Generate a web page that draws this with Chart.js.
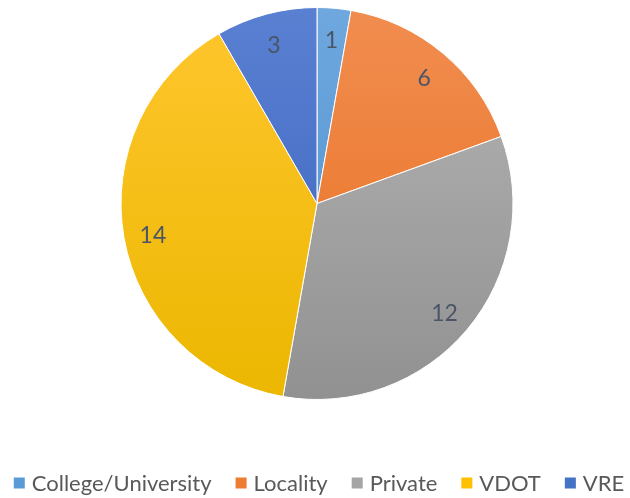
<!DOCTYPE html>
<html>
<head>
<meta charset="utf-8">
<script src="https://cdn.jsdelivr.net/npm/chart.js@4"></script>
<style>
  html, body { margin: 0; padding: 0; background: #fff; }
  #wrap { width: 630px; height: 498px; }
</style>
</head>
<body>
<div id="wrap"><canvas id="myChart"></canvas></div>
<script>
const labels = ['College/University', 'Locality', 'Private', 'VDOT', 'VRE'];
const values = [1, 6, 12, 14, 3];
// top / bottom shades for the vertical gradient of each slice
const topColors = ['#6FA8DF', '#F18D50', '#B5B5B5', '#FFC62E', '#5A80D2'];
const bottomColors = ['#4A8CCB', '#E86F1E', '#919191', '#EBB700', '#3862BC'];
const baseColors = ['#5B9BD5', '#ED7D31', '#A5A5A5', '#FFC000', '#4472C4'];

const FONT = 'Lato, "Open Sans", sans-serif';

function sliceFill(context) {
    const chart = context.chart;
    const area = chart.chartArea;
    const i = context.dataIndex;
    if (!area) return baseColors[i];
    const g = chart.ctx.createLinearGradient(0, area.top, 0, area.bottom);
    g.addColorStop(0, topColors[i]);
    g.addColorStop(1, bottomColors[i]);
    return g;
}

// write the values inside each slice
const valueLabels = {
    id: 'valueLabels',
    afterDatasetsDraw(chart) {
        const ctx = chart.ctx;
        const meta = chart.getDatasetMeta(0);
        ctx.save();
        ctx.font = '23px ' + FONT;
        ctx.fillStyle = '#4A5566';
        ctx.textAlign = 'center';
        ctx.textBaseline = 'middle';
        meta.data.forEach(function (arc, i) {
            const p = arc.getProps(['x', 'y', 'startAngle', 'endAngle', 'outerRadius']);
            const mid = (p.startAngle + p.endAngle) / 2;
            const r = p.outerRadius * 0.85;
            ctx.fillText(String(values[i]), p.x + Math.cos(mid) * r, p.y + Math.sin(mid) * r + 3);
        });
        ctx.restore();
    }
};

// legend along the bottom, drawn by hand so the box/text spacing matches
const bottomLegend = {
    id: 'bottomLegend',
    afterDraw(chart) {
        const ctx = chart.ctx;
        const box = 11, gap = 7, itemGap = 24;
        ctx.save();
        ctx.font = '22px ' + FONT;
        ctx.textBaseline = 'middle';
        ctx.textAlign = 'left';
        const widths = labels.map(function (t) { return ctx.measureText(t).width; });
        let total = 0;
        widths.forEach(function (w) { total += box + gap + w; });
        total += itemGap * (labels.length - 1);
        let x = (chart.width - total) / 2 + 4;
        const y = chart.height - 15;
        labels.forEach(function (t, i) {
            ctx.fillStyle = baseColors[i];
            ctx.fillRect(x, y - box / 2, box, box);
            ctx.fillStyle = '#595959';
            ctx.fillText(t, x + box + gap, y + 1);
            x += box + gap + widths[i] + itemGap;
        });
        ctx.restore();
    }
};

const ctx1 = document.getElementById('myChart').getContext('2d');
const myChart = new Chart(ctx1, {
    type: 'pie',
    data: {
        labels: labels,
        datasets: [{
            data: values,
            backgroundColor: sliceFill,
            borderColor: '#ffffff',
            borderWidth: 1
        }]
    },
    options: {
        responsive: true,
        maintainAspectRatio: false,
        animation: false,
        layout: {
            padding: { top: 7, bottom: 98, left: 4, right: 0 }
        },
        plugins: {
            tooltip: { enabled: false },
            legend: { display: false }
        }
    },
    plugins: [valueLabels, bottomLegend]
});
</script>
</body>
</html>
